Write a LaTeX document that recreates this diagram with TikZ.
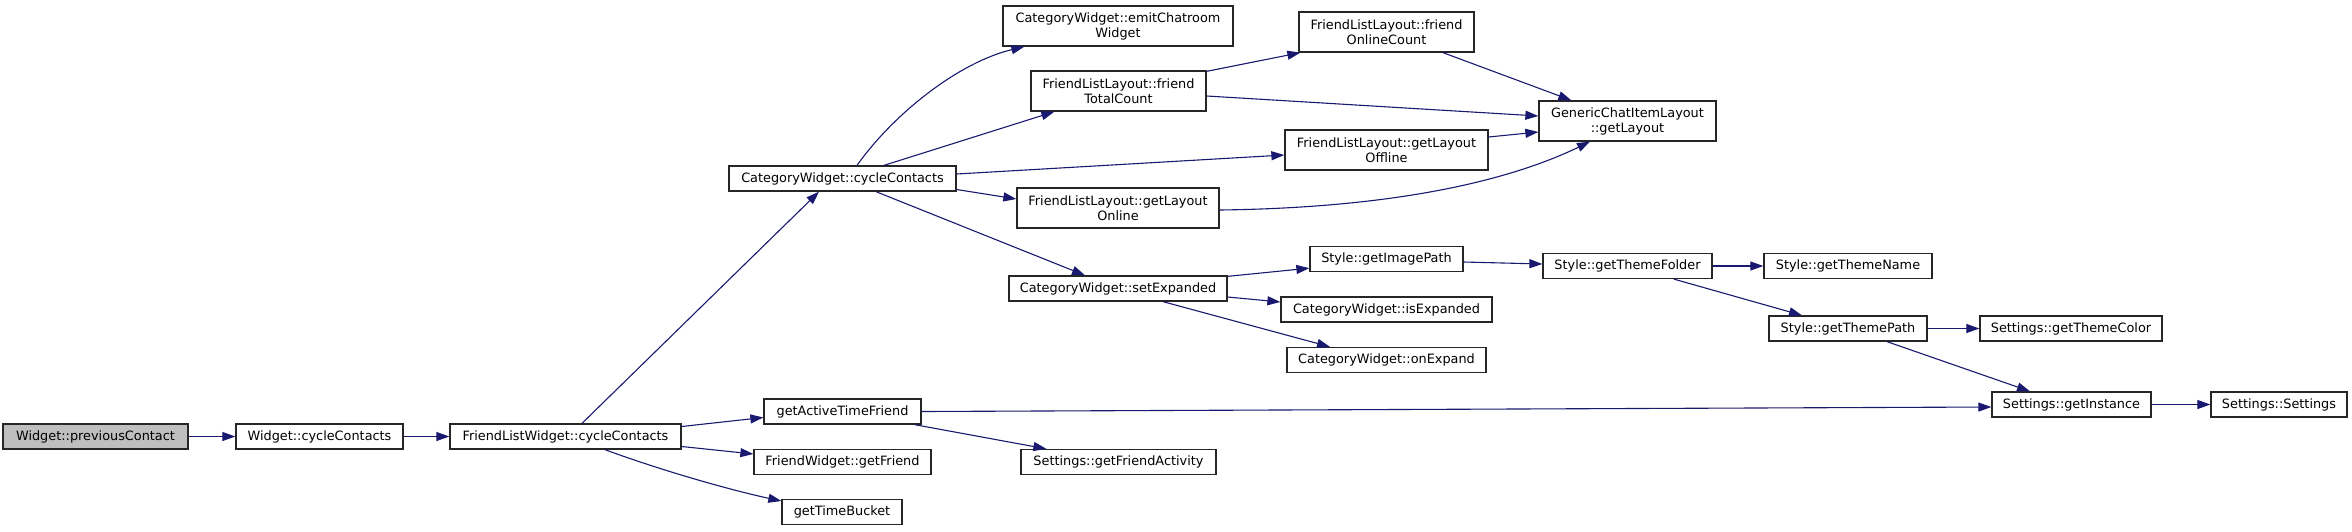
\documentclass[tikz,border=0pt]{standalone}
\usepackage{fontspec}
\setmainfont{DejaVu Sans}
\usetikzlibrary{arrows.meta,calc}
\definecolor{edgeblue}{RGB}{25,25,112}
\begin{document}
\begin{tikzpicture}[x=1pt,y=-1pt,
  dbox/.style={draw=black!85,line width=1.3pt,fill=white,inner sep=0pt,minimum height=25pt,align=center,font=\fontsize{12.85}{15}\selectfont},
  dboxtwo/.style={dbox,minimum height=40pt},
  dedge/.style={draw=edgeblue,line width=1.1pt,-{Triangle[length=13pt,width=9pt]}}]
\useasboundingbox (0,0) rectangle (2352,531);
% nodes
\node[dbox,fill=gray!50,minimum width=185pt] (prev) at (95.5,436.5) {Widget::previousContact};
\node[dbox,minimum width=167pt] (wcc) at (319.5,436.5) {Widget::cycleContacts};
\node[dbox,minimum width=231pt] (flw) at (565.5,436.5) {FriendListWidget::cycleContacts};
\node[dbox,minimum width=227pt] (cwcc) at (842.5,178.5) {CategoryWidget::cycleContacts};
\node[dboxtwo,minimum width=230pt] (emit) at (1118,26) {CategoryWidget::emitChatroom\\Widget};
\node[dboxtwo,minimum width=175pt] (ftc) at (1118.5,91) {FriendListLayout::friend\\TotalCount};
\node[dboxtwo,minimum width=175pt] (foc) at (1386.5,32) {FriendListLayout::friend\\OnlineCount};
\node[dboxtwo,minimum width=177pt] (gcil) at (1627.5,121) {GenericChatItemLayout\\::getLayout};
\node[dboxtwo,minimum width=203pt] (flo) at (1386.5,150) {FriendListLayout::getLayout\\Offline};
\node[dboxtwo,minimum width=202pt] (fon) at (1118,208) {FriendListLayout::getLayout\\Online};
\node[dbox,minimum width=218pt] (setexp) at (1118,288.5) {CategoryWidget::setExpanded};
\node[dbox,minimum width=153pt] (imgpath) at (1386.5,259) {Style::getImagePath};
\node[dbox,minimum width=169pt] (tfolder) at (1627.5,266) {Style::getThemeFolder};
\node[dbox,minimum width=168pt] (tname) at (1848,266) {Style::getThemeName};
\node[dbox,minimum width=211pt] (isexp) at (1386.5,309.5) {CategoryWidget::isExpanded};
\node[dbox,minimum width=199pt] (onexp) at (1386.5,360) {CategoryWidget::onExpand};
\node[dbox,minimum width=158pt] (tpath) at (1848,328.5) {Style::getThemePath};
\node[dbox,minimum width=182pt] (tcolor) at (2071,328.5) {Settings::getThemeColor};
\node[dbox,minimum width=157pt] (gatf) at (842.5,411.5) {getActiveTimeFriend};
\node[dbox,minimum width=159pt] (ginst) at (2071.5,404.5) {Settings::getInstance};
\node[dbox,minimum width=136pt] (sset) at (2279,404.5) {Settings::Settings};
\node[dbox,minimum width=177pt] (gfriend) at (842.5,462) {FriendWidget::getFriend};
\node[dbox,minimum width=195pt] (fact) at (1118.5,462) {Settings::getFriendActivity};
\node[dbox,minimum width=120pt] (tbucket) at (842,512) {getTimeBucket};
% edges
\draw[dedge] (prev.east) -- (wcc.west);
\draw[dedge] (wcc.east) -- (flw.west);
\draw[dedge] ($(flw.north)+(16.5,0)$) -- ($(cwcc.south)+(-23.5,0)$);
\draw[dedge] ($(flw.east)+(0,-10)$) -- ($(gatf.west)+(0,6)$);
\draw[dedge] ($(flw.east)+(0,10)$) -- ($(gfriend.west)+(0,-8)$);
\draw[dedge] ($(flw.south)+(39.5,0)$) .. controls (660,470) and (730,490) .. ($(tbucket.west)+(0,-11)$);
\draw[dedge] ($(cwcc.north)+(14.5,0)$) .. controls (895,112) and (960,62) .. ($(emit.south west)+(22,0)$);
\draw[dedge] ($(cwcc.north)+(41.5,0)$) -- ($(ftc.south west)+(24,0)$);
\draw[dedge] ($(cwcc.east)+(0,-4.5)$) -- ($(flo.west)+(0,5)$);
\draw[dedge] ($(cwcc.east)+(0,11)$) -- ($(fon.west)+(0,-9)$);
\draw[dedge] ($(cwcc.south)+(33.5,0)$) -- ($(setexp.north)+(-33,0)$);
\draw[dedge] ($(ftc.north east)+(0,1)$) -- ($(foc.south west)+(2,0)$);
\draw[dedge] ($(ftc.east)+(0,5)$) -- ($(gcil.west)+(0,-5)$);
\draw[dedge] ($(foc.south)+(56.5,0)$) -- ($(gcil.north west)+(33,0)$);
\draw[dedge] ($(flo.east)+(0,-13)$) -- ($(gcil.west)+(0,11)$);
\draw[dedge] ($(fon.east)+(0,2)$) .. controls (1380,208) and (1500,185) .. ($(gcil.south)+(-37.5,0)$);
\draw[dedge] ($(setexp.north east)+(0,1)$) -- ($(imgpath.south west)+(0,-4)$);
\draw[dedge] ($(setexp.east)+(0,8.5)$) -- ($(isexp.west)+(0,-7.5)$);
\draw[dedge] ($(setexp.south)+(45,0)$) -- ($(onexp.north)+(-56.5,0)$);
\draw[dedge] ($(imgpath.east)+(0,3)$) -- ($(tfolder.west)+(0,-2)$);
\draw[dedge] (tfolder.east) -- (tname.west);
\draw[dedge] ($(tfolder.south)+(46.5,0)$) -- ($(tpath.north)+(-46,0)$);
\draw[dedge] (tpath.east) -- (tcolor.west);
\draw[dedge] ($(tpath.south)+(39,0)$) -- ($(ginst.north)+(-41.5,0)$);
\draw[dedge] (gatf.east) -- ($(ginst.west)+(0,2.5)$);
\draw[dedge] ($(gatf.south east)+(-7,0)$) -- ($(fact.north west)+(26,0)$);
\draw[dedge] (ginst.east) -- (sset.west);
\end{tikzpicture}
\end{document}
